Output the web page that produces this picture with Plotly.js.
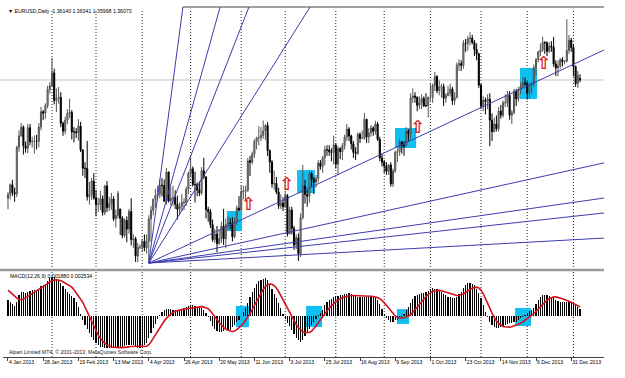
<!DOCTYPE html>
<html><head><meta charset="utf-8">
<script src="https://cdn.plot.ly/plotly-3.0.1.min.js"></script>
<style>html,body{margin:0;padding:0;background:#fff}#chart{width:625px;height:378px}</style>
</head><body><div id="chart"></div>
<script>
// ---- time axis (bar index = trading day from 4 Jan 2013) ----
const tickBars = [0,16,32,48,64,80,96,112,128,144,160,176,192,208,224,240,256];
const tickLabels = ['4 Jan 2013','28 Jan 2013','19 Feb 2013','13 Mar 2013','4 Apr 2013','26 Apr 2013','20 May 2013','11 Jun 2013','3 Jul 2013','25 Jul 2013','16 Aug 2013','9 Sep 2013','1 Oct 2013','23 Oct 2013','14 Nov 2013','6 Dec 2013','31 Dec 2013'];
const monthStartBars = [20,40,61,83,106,126,149,171,192,215,236,257];

// ---- EURUSD daily OHLC ----
const opens = [
1.3050,1.3067,1.3114,1.3077,1.3070,1.3290,1.3344,1.3385,1.3298,1.3285,
1.3382,1.3317,1.3318,1.3319,1.3318,1.3386,1.3458,1.3451,1.3487,1.3563,
1.3579,1.3641,1.3510,1.3523,1.3525,1.3403,1.3366,1.3418,1.3450,1.3455,
1.3363,1.3363,1.3359,1.3390,1.3278,1.3192,1.3190,1.3057,1.3068,1.3131,
1.3052,1.3021,1.3022,1.3048,1.2983,1.3108,1.3006,1.3026,1.3047,1.2953,
1.2969,1.3000,1.2956,1.2875,1.2946,1.2905,1.2988,1.2855,1.2859,1.2778,
1.2819,1.2820,1.2847,1.2817,1.2848,1.2953,1.2994,1.3046,1.3063,1.3069,
1.3112,1.3110,1.3036,1.3174,1.3037,1.3049,1.3053,1.3022,1.2998,1.3011,
1.3031,1.3031,1.3093,1.3168,1.3189,1.3115,1.3114,1.3089,1.3075,1.3180,
1.3151,1.2997,1.2987,1.2926,1.2856,1.2882,1.2837,1.2860,1.2919,1.2859,
1.2927,1.2934,1.2931,1.2869,1.2941,1.3004,1.2994,1.3080,1.3084,1.3087,
1.3227,1.3220,1.3259,1.3318,1.3335,1.3336,1.3346,1.3367,1.3393,1.3275,
1.3221,1.3118,1.3120,1.3080,1.3015,1.3028,1.3010,1.3063,1.2883,1.2995,
1.2908,1.2830,1.2864,1.2789,1.2960,1.3108,1.3068,1.3060,1.3166,1.3141,
1.3125,1.3143,1.3216,1.3200,1.3241,1.3279,1.3278,1.3269,1.3266,1.3301,
1.3211,1.3284,1.3270,1.3298,1.3338,1.3376,1.3344,1.3307,1.3266,1.3262,
1.3352,1.3332,1.3333,1.3422,1.3339,1.3358,1.3381,1.3366,1.3400,1.3327,
1.3240,1.3220,1.3202,1.3177,1.3207,1.3118,1.3179,1.3266,1.3269,1.3315,
1.3299,1.3297,1.3364,1.3356,1.3522,1.3532,1.3526,1.3488,1.3500,1.3521,
1.3486,1.3486,1.3525,1.3525,1.3582,1.3623,1.3557,1.3575,1.3576,1.3521,
1.3535,1.3546,1.3565,1.3510,1.3525,1.3677,1.3685,1.3676,1.3781,1.3780,
1.3802,1.3805,1.3785,1.3751,1.3730,1.3583,1.3484,1.3512,1.3506,1.3517,
1.3418,1.3364,1.3400,1.3378,1.3461,1.3441,1.3500,1.3500,1.3535,1.3441,
1.3453,1.3555,1.3518,1.3563,1.3578,1.3594,1.3590,1.3545,1.3585,1.3590,
1.3665,1.3704,1.3739,1.3749,1.3784,1.3782,1.3742,1.3767,1.3762,1.3683,
1.3664,1.3674,1.3703,1.3694,1.3696,1.3746,1.3795,1.3760,1.3670,1.3590,
1.3614];
const highs = [
1.3080,1.3120,1.3137,1.3100,1.3298,1.3370,1.3404,1.3393,1.3318,1.3400,
1.3400,1.3340,1.3346,1.3349,1.3404,1.3480,1.3466,1.3497,1.3580,1.3597,
1.3711,1.3660,1.3567,1.3574,1.3550,1.3412,1.3435,1.3470,1.3519,1.3466,
1.3385,1.3380,1.3423,1.3410,1.3280,1.3220,1.3320,1.3127,1.3146,1.3168,
1.3089,1.3053,1.3085,1.3063,1.3113,1.3131,1.3058,1.3075,1.3060,1.2997,
1.3085,1.3000,1.2966,1.2955,1.2965,1.3000,1.3050,1.2880,1.2869,1.2840,
1.2833,1.2857,1.2880,1.2880,1.2970,1.3014,1.3048,1.3095,1.3110,1.3140,
1.3145,1.3139,1.3193,1.3176,1.3104,1.3110,1.3088,1.3063,1.3030,1.3070,
1.3050,1.3105,1.3175,1.3243,1.3200,1.3175,1.3125,1.3130,1.3197,1.3240,
1.3152,1.3010,1.3000,1.2950,1.2905,1.2920,1.2902,1.2940,1.3000,1.2955,
1.2965,1.2958,1.2960,1.2960,1.3016,1.3060,1.3110,1.3108,1.3110,1.3240,
1.3250,1.3270,1.3328,1.3340,1.3390,1.3385,1.3416,1.3400,1.3410,1.3280,
1.3230,1.3180,1.3150,1.3100,1.3069,1.3055,1.3080,1.3070,1.3010,1.3010,
1.2920,1.2880,1.2885,1.2980,1.3207,1.3137,1.3090,1.3180,1.3176,1.3150,
1.3160,1.3230,1.3230,1.3250,1.3297,1.3300,1.3300,1.3286,1.3345,1.3310,
1.3295,1.3290,1.3310,1.3350,1.3400,1.3385,1.3350,1.3320,1.3290,1.3360,
1.3360,1.3370,1.3452,1.3425,1.3380,1.3395,1.3390,1.3415,1.3410,1.3340,
1.3260,1.3230,1.3220,1.3210,1.3220,1.3190,1.3275,1.3285,1.3330,1.3320,
1.3320,1.3385,1.3375,1.3545,1.3568,1.3550,1.3530,1.3530,1.3540,1.3530,
1.3545,1.3530,1.3590,1.3590,1.3645,1.3630,1.3605,1.3590,1.3590,1.3545,
1.3580,1.3590,1.3575,1.3550,1.3690,1.3705,1.3700,1.3795,1.3800,1.3815,
1.3832,1.3820,1.3795,1.3780,1.3735,1.3590,1.3530,1.3525,1.3540,1.3545,
1.3450,1.3430,1.3440,1.3480,1.3490,1.3510,1.3540,1.3555,1.3555,1.3465,
1.3565,1.3565,1.3575,1.3595,1.3620,1.3620,1.3605,1.3595,1.3600,1.3680,
1.3710,1.3745,1.3780,1.3810,1.3790,1.3790,1.3785,1.3790,1.3810,1.3700,
1.3700,1.3710,1.3715,1.3700,1.3893,1.3820,1.3805,1.3775,1.3675,1.3650,
1.3634];
const lows = [
1.2998,1.3045,1.3060,1.3034,1.3056,1.3270,1.3340,1.3256,1.3265,1.3262,
1.3300,1.3288,1.3260,1.3280,1.3290,1.3370,1.3418,1.3424,1.3474,1.3542,
1.3576,1.3492,1.3457,1.3496,1.3385,1.3344,1.3351,1.3400,1.3427,1.3327,
1.3313,1.3334,1.3321,1.3268,1.3156,1.3145,1.3039,1.3020,1.3043,1.3043,
1.2965,1.2985,1.2995,1.2968,1.2970,1.2985,1.2990,1.2995,1.2942,1.2912,
1.2955,1.2877,1.2862,1.2866,1.2843,1.2883,1.2828,1.2817,1.2750,1.2750,
1.2810,1.2800,1.2800,1.2790,1.2745,1.2845,1.2970,1.3005,1.3037,1.3050,
1.3058,1.3035,1.3020,1.3030,1.3015,1.3015,1.3000,1.2950,1.2970,1.2990,
1.2995,1.3015,1.3070,1.3150,1.3105,1.3030,1.3060,1.3060,1.3065,1.3140,
1.2955,1.2940,1.2910,1.2845,1.2840,1.2796,1.2830,1.2840,1.2830,1.2815,
1.2900,1.2905,1.2847,1.2860,1.2925,1.2990,1.2990,1.3045,1.3035,1.3080,
1.3155,1.3210,1.3240,1.3280,1.3300,1.3320,1.3330,1.3325,1.3250,1.3170,
1.3100,1.3090,1.3070,1.3000,1.3000,1.2990,1.3005,1.2870,1.2880,1.2880,
1.2807,1.2810,1.2755,1.2773,1.2950,1.3025,1.3010,1.3030,1.3105,1.3070,
1.3100,1.3125,1.3185,1.3170,1.3205,1.3250,1.3250,1.3225,1.3210,1.3190,
1.3160,1.3235,1.3230,1.3280,1.3320,1.3320,1.3280,1.3240,1.3230,1.3255,
1.3310,1.3330,1.3325,1.3310,1.3310,1.3340,1.3345,1.3350,1.3320,1.3225,
1.3200,1.3170,1.3160,1.3160,1.3105,1.3103,1.3170,1.3220,1.3250,1.3260,
1.3250,1.3295,1.3320,1.3330,1.3500,1.3500,1.3460,1.3470,1.3470,1.3480,
1.3480,1.3430,1.3510,1.3500,1.3555,1.3545,1.3535,1.3525,1.3485,1.3500,
1.3530,1.3530,1.3490,1.3490,1.3520,1.3650,1.3650,1.3660,1.3740,1.3745,
1.3770,1.3775,1.3720,1.3700,1.3570,1.3470,1.3460,1.3445,1.3470,1.3295,
1.3320,1.3360,1.3365,1.3365,1.3425,1.3430,1.3480,1.3480,1.3420,1.3400,
1.3445,1.3485,1.3505,1.3540,1.3570,1.3580,1.3515,1.3520,1.3540,1.3575,
1.3630,1.3690,1.3720,1.3740,1.3730,1.3720,1.3735,1.3740,1.3670,1.3625,
1.3625,1.3660,1.3670,1.3680,1.3690,1.3730,1.3740,1.3625,1.3575,1.3570,
1.3597];
const closes = [
1.3067,1.3114,1.3077,1.3070,1.3290,1.3344,1.3385,1.3298,1.3285,1.3382,
1.3317,1.3318,1.3319,1.3318,1.3386,1.3458,1.3451,1.3487,1.3563,1.3579,
1.3641,1.3510,1.3523,1.3525,1.3403,1.3366,1.3418,1.3450,1.3455,1.3363,
1.3363,1.3359,1.3390,1.3278,1.3192,1.3190,1.3057,1.3068,1.3131,1.3052,
1.3021,1.3022,1.3048,1.2983,1.3108,1.3006,1.3026,1.3047,1.2953,1.2969,
1.3074,1.2956,1.2875,1.2946,1.2905,1.2988,1.2855,1.2859,1.2778,1.2819,
1.2820,1.2847,1.2817,1.2848,1.2953,1.2994,1.3046,1.3063,1.3069,1.3112,
1.3110,1.3036,1.3174,1.3037,1.3049,1.3053,1.3022,1.2998,1.3011,1.3031,
1.3031,1.3093,1.3168,1.3189,1.3115,1.3114,1.3089,1.3075,1.3180,1.3151,
1.2997,1.2987,1.2926,1.2856,1.2882,1.2837,1.2860,1.2919,1.2859,1.2927,
1.2934,1.2931,1.2869,1.2941,1.3004,1.2994,1.3080,1.3084,1.3087,1.3227,
1.3220,1.3259,1.3318,1.3335,1.3336,1.3346,1.3367,1.3393,1.3275,1.3221,
1.3118,1.3120,1.3080,1.3015,1.3028,1.3010,1.3063,1.2883,1.2995,1.2908,
1.2830,1.2864,1.2789,1.2960,1.3108,1.3068,1.3060,1.3166,1.3141,1.3125,
1.3143,1.3216,1.3200,1.3241,1.3279,1.3278,1.3269,1.3266,1.3301,1.3211,
1.3284,1.3270,1.3298,1.3338,1.3376,1.3344,1.3307,1.3266,1.3262,1.3352,
1.3332,1.3333,1.3422,1.3339,1.3358,1.3381,1.3366,1.3400,1.3327,1.3240,
1.3220,1.3202,1.3177,1.3207,1.3118,1.3179,1.3266,1.3269,1.3315,1.3299,
1.3297,1.3364,1.3356,1.3522,1.3532,1.3526,1.3488,1.3500,1.3521,1.3486,
1.3486,1.3525,1.3525,1.3582,1.3623,1.3557,1.3575,1.3576,1.3521,1.3535,
1.3546,1.3565,1.3510,1.3525,1.3677,1.3685,1.3676,1.3781,1.3780,1.3802,
1.3805,1.3785,1.3751,1.3730,1.3583,1.3484,1.3512,1.3506,1.3517,1.3418,
1.3364,1.3400,1.3378,1.3461,1.3441,1.3500,1.3500,1.3535,1.3441,1.3453,
1.3555,1.3518,1.3563,1.3578,1.3594,1.3590,1.3545,1.3585,1.3590,1.3665,
1.3704,1.3739,1.3749,1.3784,1.3782,1.3742,1.3767,1.3762,1.3683,1.3664,
1.3674,1.3703,1.3694,1.3696,1.3746,1.3795,1.3760,1.3670,1.3590,1.3630,
1.3607];

// ---- MACD(12,26,9): main histogram and signal line ----
const macdMain = [
0.0044,0.0038,0.0032,0.0027,0.0040,0.0058,0.0066,0.0066,0.0064,0.0068,
0.0070,0.0072,0.0072,0.0073,0.0076,0.0082,0.0086,0.0090,0.0098,0.0106,
0.0108,0.0107,0.0104,0.0099,0.0093,0.0084,0.0076,0.0068,0.0062,0.0056,
0.0050,0.0040,0.0025,0.0005,-0.0010,-0.0024,-0.0036,-0.0048,-0.0058,-0.0066,
-0.0074,-0.0080,-0.0085,-0.0087,-0.0088,-0.0089,-0.0089,-0.0088,-0.0087,-0.0086,
-0.0085,-0.0086,-0.0085,-0.0083,-0.0081,-0.0080,-0.0080,-0.0081,-0.0085,-0.0089,
-0.0088,-0.0085,-0.0080,-0.0074,-0.0062,-0.0048,-0.0034,-0.0022,-0.0008,0.0003,
0.0011,0.0016,0.0020,0.0020,0.0019,0.0018,0.0017,0.0016,0.0017,0.0019,
0.0022,0.0025,0.0028,0.0030,0.0030,0.0028,0.0026,0.0025,0.0022,0.0016,
0.0008,-0.0002,-0.0015,-0.0028,-0.0036,-0.0042,-0.0044,-0.0044,-0.0042,-0.0040,
-0.0040,-0.0038,-0.0032,-0.0026,-0.0018,-0.0010,0.0000,0.0010,0.0022,0.0036,
0.0052,0.0066,0.0078,0.0088,0.0096,0.0100,0.0104,0.0106,0.0100,0.0090,
0.0076,0.0062,0.0050,0.0036,0.0022,0.0006,-0.0008,-0.0020,-0.0028,-0.0038,
-0.0050,-0.0062,-0.0068,-0.0072,-0.0066,-0.0056,-0.0046,-0.0036,-0.0026,-0.0018,
-0.0008,0.0002,0.0008,0.0018,0.0030,0.0039,0.0044,0.0048,0.0053,0.0055,
0.0056,0.0057,0.0058,0.0060,0.0062,0.0064,0.0062,0.0058,0.0055,0.0054,
0.0053,0.0053,0.0054,0.0054,0.0053,0.0053,0.0053,0.0050,0.0044,0.0034,
0.0020,0.0006,-0.0006,-0.0012,-0.0017,-0.0016,-0.0012,-0.0010,-0.0006,-0.0002,
0.0006,0.0016,0.0026,0.0036,0.0048,0.0056,0.0058,0.0061,0.0063,0.0065,
0.0067,0.0070,0.0074,0.0078,0.0076,0.0074,0.0072,0.0068,0.0062,0.0057,
0.0054,0.0053,0.0051,0.0050,0.0054,0.0060,0.0068,0.0078,0.0086,0.0091,
0.0092,0.0090,0.0086,0.0076,0.0064,0.0050,0.0030,0.0011,-0.0002,-0.0017,
-0.0026,-0.0030,-0.0033,-0.0033,-0.0031,-0.0030,-0.0026,-0.0022,-0.0020,-0.0019,
-0.0018,-0.0017,-0.0012,-0.0006,-0.0003,0.0002,0.0008,0.0014,0.0018,0.0022,
0.0034,0.0045,0.0053,0.0057,0.0058,0.0058,0.0056,0.0053,0.0050,0.0045,
0.0041,0.0039,0.0039,0.0039,0.0039,0.0038,0.0037,0.0036,0.0030,0.0024,
0.0019];
const macdSignal = [
0.0072,0.0066,0.0060,0.0054,0.0050,0.0046,0.0045,0.0047,0.0050,0.0054,
0.0058,0.0062,0.0066,0.0069,0.0072,0.0076,0.0080,0.0085,0.0090,0.0095,
0.0098,0.0100,0.0101,0.0100,0.0098,0.0095,0.0091,0.0088,0.0085,0.0080,
0.0073,0.0065,0.0057,0.0049,0.0038,0.0025,0.0012,-0.0002,-0.0016,-0.0030,
-0.0042,-0.0053,-0.0062,-0.0070,-0.0076,-0.0080,-0.0084,-0.0086,-0.0087,-0.0088,
-0.0088,-0.0088,-0.0088,-0.0088,-0.0087,-0.0086,-0.0085,-0.0084,-0.0084,-0.0084,
-0.0084,-0.0085,-0.0085,-0.0084,-0.0080,-0.0072,-0.0062,-0.0052,-0.0042,-0.0032,
-0.0023,-0.0014,-0.0006,0.0000,0.0006,0.0010,0.0013,0.0015,0.0017,0.0018,
0.0019,0.0020,0.0021,0.0022,0.0023,0.0024,0.0025,0.0026,0.0026,0.0025,
0.0023,0.0020,0.0014,0.0007,-0.0002,-0.0010,-0.0018,-0.0026,-0.0032,-0.0037,
-0.0040,-0.0042,-0.0043,-0.0042,-0.0038,-0.0033,-0.0027,-0.0020,-0.0012,-0.0004,
0.0006,0.0018,0.0030,0.0042,0.0054,0.0064,0.0074,0.0082,0.0087,0.0089,
0.0088,0.0084,0.0078,0.0068,0.0056,0.0044,0.0032,0.0020,0.0008,-0.0004,
-0.0014,-0.0024,-0.0032,-0.0039,-0.0044,-0.0046,-0.0047,-0.0046,-0.0042,-0.0036,
-0.0028,-0.0019,-0.0010,-0.0002,0.0006,0.0014,0.0022,0.0029,0.0035,0.0040,
0.0044,0.0048,0.0051,0.0053,0.0055,0.0056,0.0057,0.0057,0.0057,0.0057,
0.0057,0.0057,0.0056,0.0056,0.0055,0.0055,0.0054,0.0053,0.0051,0.0048,
0.0043,0.0037,0.0030,0.0022,0.0014,0.0006,0.0000,-0.0004,-0.0006,-0.0006,
-0.0005,-0.0003,0.0000,0.0004,0.0010,0.0017,0.0024,0.0032,0.0040,0.0047,
0.0054,0.0060,0.0065,0.0068,0.0070,0.0071,0.0071,0.0070,0.0068,0.0066,
0.0064,0.0062,0.0060,0.0058,0.0057,0.0057,0.0059,0.0062,0.0066,0.0070,
0.0074,0.0077,0.0079,0.0080,0.0078,0.0072,0.0062,0.0050,0.0036,0.0022,
0.0008,-0.0004,-0.0014,-0.0021,-0.0026,-0.0029,-0.0030,-0.0031,-0.0031,-0.0030,
-0.0028,-0.0026,-0.0023,-0.0020,-0.0016,-0.0012,-0.0008,-0.0003,0.0002,0.0007,
0.0013,0.0020,0.0027,0.0033,0.0039,0.0044,0.0048,0.0051,0.0053,0.0053,
0.0052,0.0050,0.0048,0.0046,0.0044,0.0041,0.0038,0.0035,0.0031,0.0028,
0.0025];

// ---- chart objects ----
const bidPrice = 1.36073;
const fanOriginBar = 64, fanOriginPrice = 1.2745;
const fanSlopes = [0.00777,0.00372,0.00265,0.001645,0.000485,0.000228,0.000148,0.000114,0.0000569];
const boxX0 = [99.5,131.4,175.9,232.7], boxX1 = [106.4,139.5,185.5,240.5];
const boxP0 = [1.2896,1.3075,1.3287,1.3518], boxP1 = [1.2990,1.3183,1.3381,1.3664];
const mBoxX0 = [103.6,135.5,176.8,230.5], mBoxX1 = [109.5,142.7,182.3,237.7];
const mBoxV0 = [-0.0031,-0.0031,-0.0022,-0.0028], mBoxV1 = [0.0028,0.0028,0.0019,0.0022];
const arrowBars = [109.5,126.8,186.4,243.6];
const arrowPrices = [1.3018,1.3112,1.3381,1.3682];
const titleText = '\u25BC EURUSD,Daily  1.36140 1.36341 1.35968 1.36073';
const macdText = 'MACD(12,26,9) 0.001880 0.002534';
const copyText = 'Alpari Limited MT4, \u00A9 2001-2013, MetaQuotes Software Corp.';

// ---- layout geometry ----
const W = 625, H = 378, L = 3, R = 21, T = 7, B = 21;
const PW = W - L - R, PH = H - T - B;
const px = v => (v - L) / PW;
const py = v => (H - B - v) / PH;

const bars = closes.map((_, i) => i);
const FONT = 'Liberation Sans, Arial, sans-serif';
const fanColor = 'rgb(60,60,175)';
const boxColor = 'rgb(16,190,240)';

const traces = [];
fanSlopes.forEach(s => {
  const xEnd = 290;
  traces.push({type:'scatter', mode:'lines', x:[fanOriginBar, xEnd],
    y:[fanOriginPrice, fanOriginPrice + s * (xEnd - fanOriginBar)],
    line:{color:fanColor, width:1}, hoverinfo:'skip', xaxis:'x', yaxis:'y'});
});
traces.push({type:'candlestick', x:bars, open:opens, high:highs, low:lows, close:closes,
  increasing:{line:{color:'#555', width:1}, fillcolor:'#999'},
  decreasing:{line:{color:'#000', width:1}, fillcolor:'#000'},
  whiskerwidth:0, xaxis:'x', yaxis:'y', hoverinfo:'skip'});
traces.push({type:'scatter', mode:'text', x:arrowBars, y:arrowPrices,
  text:arrowBars.map(() => '\u21E7'),
  textfont:{family:'DejaVu Sans', size:18, weight:'bold', color:'rgb(215,30,30)'},
  xaxis:'x', yaxis:'y', hoverinfo:'skip'});
traces.push({type:'bar', x:bars, y:macdMain, width:0.6,
  marker:{color:'#000', line:{width:0}}, xaxis:'x', yaxis:'y2', hoverinfo:'skip'});
traces.push({type:'scatter', mode:'lines', x:bars, y:macdSignal,
  line:{color:'rgb(210,20,30)', width:1.6}, xaxis:'x', yaxis:'y2', hoverinfo:'skip'});

const shapes = [];
boxX0.forEach((x0, i) => shapes.push({type:'rect', xref:'x', yref:'y', x0:x0, x1:boxX1[i],
  y0:boxP0[i], y1:boxP1[i], fillcolor:boxColor, line:{width:0}, layer:'below'}));
mBoxX0.forEach((x0, i) => shapes.push({type:'rect', xref:'x', yref:'y2', x0:x0, x1:mBoxX1[i],
  y0:mBoxV0[i], y1:mBoxV1[i], fillcolor:boxColor, line:{width:0}, layer:'below'}));
monthStartBars.forEach(b => shapes.push({type:'line', xref:'x', yref:'paper', x0:b, x1:b,
  y0:0, y1:py(9), line:{color:'#222', width:1, dash:'1px,2px'}, layer:'below'}));
shapes.push({type:'line', xref:'paper', yref:'y', x0:px(0), x1:1, y0:bidPrice, y1:bidPrice,
  line:{color:'#c4c4c4', width:1}, layer:'below'});
shapes.push({type:'line', xref:'paper', yref:'paper', x0:px(0), x1:1, y0:py(270), y1:py(270),
  line:{color:'#9a9a9a', width:2.5}});
shapes.push({type:'line', xref:'paper', yref:'paper', x0:px(183), x1:1, y0:py(7), y1:py(7),
  line:{color:'#444', width:1}});

const annotations = [
  {text:titleText, xref:'paper', yref:'paper', x:px(6), y:py(11), xanchor:'left', yanchor:'middle',
   showarrow:false, font:{family:FONT, size:5.2, color:'#000'}},
  {text:macdText, xref:'paper', yref:'paper', x:px(8), y:py(276), xanchor:'left', yanchor:'middle',
   showarrow:false, font:{family:FONT, size:5.2, color:'#000'}},
  {text:copyText, xref:'paper', yref:'paper', x:px(7), y:py(352), xanchor:'left', yanchor:'middle',
   showarrow:false, font:{family:FONT, size:5.2, color:'#222'}}
];

const layout = {
  width:W, height:H, margin:{l:L, r:R, t:T, b:B},
  paper_bgcolor:'#fff', plot_bgcolor:'rgba(0,0,0,0)', showlegend:false,
  font:{family:FONT, size:6, color:'#000'},
  bargap:0,
  xaxis:{range:[-2.27, 270.9], anchor:'y2', tickmode:'array', tickvals:tickBars, ticktext:tickLabels,
    tickangle:0, ticks:'outside', ticklen:3, tickcolor:'#444', ticklabelposition:'outside right',
    tickfont:{family:FONT, size:5.1, color:'#000'}, showline:true, linecolor:'#444', linewidth:1,
    showgrid:false, zeroline:false, rangeslider:{visible:false}, fixedrange:true},
  yaxis:{domain:[py(269), 1], range:[1.2717, 1.3951], showticklabels:false, showgrid:false,
    zeroline:false, showline:false, ticks:'', fixedrange:true},
  yaxis2:{domain:[0, py(271)], range:[-0.0114, 0.0125], showticklabels:false, showgrid:false,
    zeroline:false, showline:false, ticks:'', fixedrange:true},
  shapes:shapes, annotations:annotations
};

Plotly.newPlot('chart', traces, layout, {staticPlot:true, displayModeBar:false});
</script>
</body></html>
